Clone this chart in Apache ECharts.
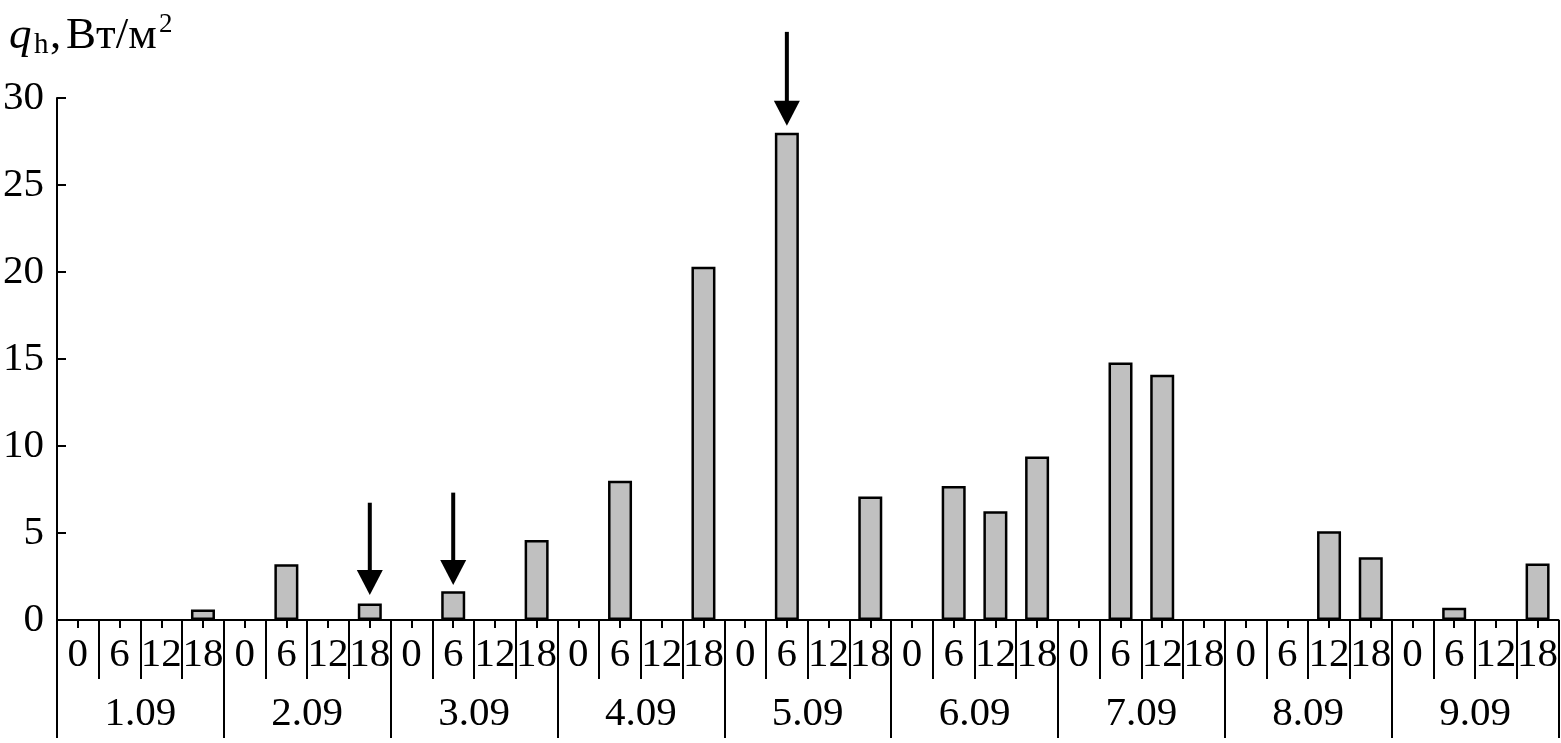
<!DOCTYPE html>
<html>
<head>
<meta charset="utf-8">
<script src="https://cdn.jsdelivr.net/npm/echarts@6/dist/echarts.min.js"></script>
<style>html,body{margin:0;padding:0;background:#fff}#c{width:1561px;height:743px}</style>
</head>
<body>
<div id="c"></div>
<script>
var days = ['1.09','2.09','3.09','4.09','5.09','6.09','7.09','8.09','9.09'];
var hours = ['0','6','12','18'];
var values = [
  0, 0, 0, 0.6,
  0, 3.2, 0, 0.95,
  0, 1.65, 0, 4.6,
  0, 8.0, 0, 20.3,
  0, 28.0, 0, 7.1,
  0, 7.7, 6.25, 9.4,
  0, 14.8, 14.1, 0,
  0, 0, 5.1, 3.6,
  0, 0.7, 0, 3.25
];
// arrows: [category index, start value, tip value]
var arrows = [
  [7, 6.74, 1.44],
  [9, 7.32, 2.01],
  [17, 33.8, 28.4]
];
var yTicks = [0, 5, 10, 15, 20, 25, 30];

var cats = [];
days.forEach(function(d){ hours.forEach(function(h){ cats.push(d + ' ' + h); }); });
var barData = values.map(function(v){ return v === 0 ? '-' : v; });

var FONT = 'Liberation Serif';
var chart = echarts.init(document.getElementById('c'));
chart.setOption({
  animation: false,
  backgroundColor: '#fff',
  grid: { left: 53, right: 1, top: 98, bottom: 123, containLabel: false },
  graphic: [
    { type: 'text', left: 9, top: 14, style: { text: 'q', font: 'italic 45px ' + FONT, fill: '#000' } },
    { type: 'text', left: 34, top: 31, style: { text: 'h', font: '29px ' + FONT, fill: '#000' } },
    { type: 'text', left: 50, top: 14, style: { text: ',', font: '45px ' + FONT, fill: '#000' } },
    { type: 'text', left: 66, top: 14, style: { text: 'Вт/м', font: '45px ' + FONT, fill: '#000' } },
    { type: 'text', left: 159, top: 11, style: { text: '2', font: '27px ' + FONT, fill: '#000' } }
  ],
  xAxis: [
    {
      type: 'category', data: cats, position: 'bottom', gridIndex: 0,
      axisLine: { show: true, lineStyle: { color: '#000', width: 2 } },
      axisTick: { show: true, alignWithLabel: true, interval: 0, length: 8, lineStyle: { color: '#000', width: 2 } },
      axisLabel: { interval: 0, margin: 15, color: '#000', fontFamily: FONT, fontSize: 41,
        formatter: function(v){ return v.split(' ')[1]; } }
    },
    {
      type: 'category', data: cats, position: 'bottom', gridIndex: 0,
      axisLine: { show: false },
      axisTick: { show: true, interval: 0, length: 59, lineStyle: { color: '#000', width: 2 } },
      axisLabel: { show: false }
    },
    {
      type: 'category', data: days, position: 'bottom', gridIndex: 0,
      axisLine: { show: false },
      axisTick: { show: true, interval: 0, length: 118, lineStyle: { color: '#000', width: 2 } },
      axisLabel: { interval: 0, margin: 74, color: '#000', fontFamily: FONT, fontSize: 41 }
    }
  ],
  yAxis: {
    type: 'value', min: 0, max: 30, interval: 5,
    axisLine: { show: true, lineStyle: { color: '#000', width: 2 } },
    axisTick: { show: true, inside: true, length: 9, lineStyle: { color: '#000', width: 2 } },
    axisLabel: { margin: 13, color: '#000', fontFamily: FONT, fontSize: 41,
      formatter: function(v){ return yTicks.indexOf(v) >= 0 ? String(v) : ''; } },
    splitLine: { show: false }
  },
  series: [
    {
      type: 'bar', xAxisIndex: 0, data: barData, barWidth: 24,
      itemStyle: { color: '#c0c0c0', borderColor: '#000', borderWidth: 2.5 }
    },
    {
      type: 'custom', xAxisIndex: 0, data: arrows, clip: false, z: 5,
      renderItem: function(params, api){
        var s = api.coord([api.value(0), api.value(1)]);
        var t = api.coord([api.value(0), api.value(2)]);
        var headH = 25, headW = 26, shaftW = 4;
        return {
          type: 'group',
          children: [
            { type: 'rect', shape: { x: s[0] - shaftW/2, y: s[1], width: shaftW, height: (t[1] - headH) - s[1] + 1 }, style: { fill: '#000' } },
            { type: 'polygon', shape: { points: [[t[0] - headW/2, t[1] - headH], [t[0] + headW/2, t[1] - headH], [t[0], t[1]]] }, style: { fill: '#000' } }
          ]
        };
      }
    }
  ]
});
</script>
</body>
</html>
